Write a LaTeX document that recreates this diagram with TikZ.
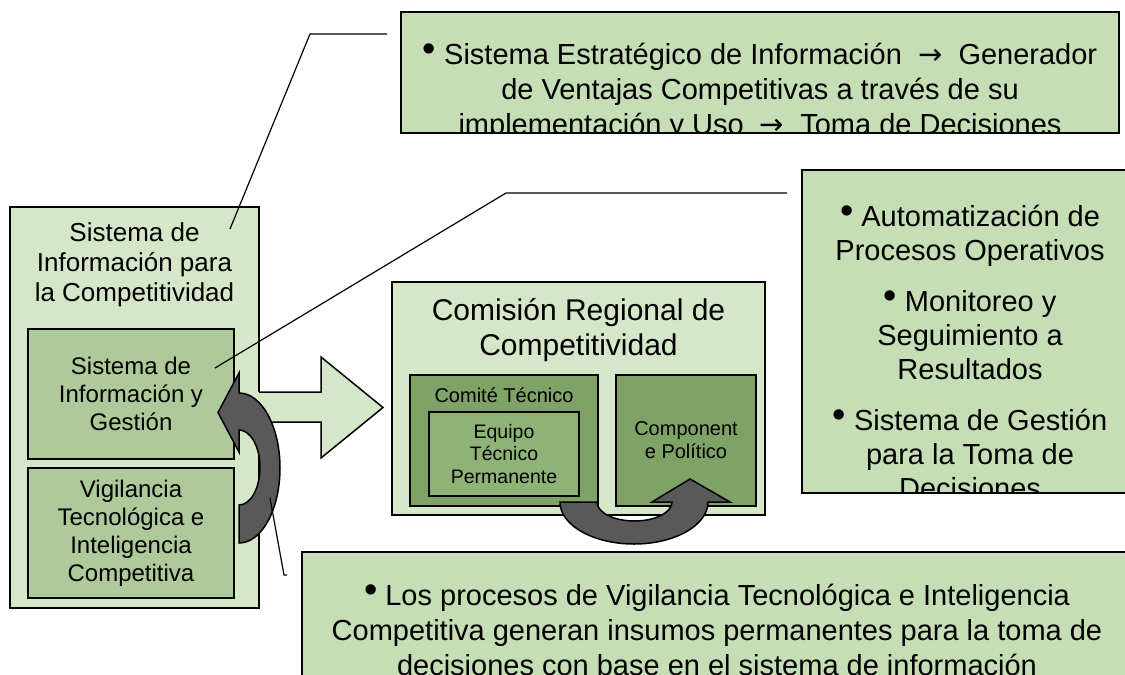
\documentclass[tikz,border=0pt]{standalone}
\usepackage{fontspec}
\setmainfont{Liberation Sans}
\newfontfamily\arrowfont{DejaVu Sans}
\usetikzlibrary{positioning, calc}

\definecolor{paleleaf}{HTML}{D5E6C9}
\definecolor{noteleaf}{HTML}{C5DEB5}
\definecolor{midleaf}{HTML}{AEC99A}
\definecolor{deepleaf}{HTML}{7FA266}
\definecolor{teamleaf}{HTML}{8FB277}
\definecolor{turngray}{HTML}{595959}

\newcommand{\dotmark}{\raisebox{3.5pt}{\fontsize{38}{38}\selectfont\textbullet}~}
\newcommand{\thenarrow}{~~{\arrowfont →}~~}

\begin{document}
\begin{tikzpicture}[x=1pt, y=-1pt,
  outerbox/.style={rectangle, draw=black, line width=1.5pt, fill=paleleaf, outer sep=0pt, inner sep=0pt},
  innerbox/.style={rectangle, draw=black, line width=1.5pt, fill=midleaf, outer sep=0pt, inner sep=0pt, minimum width=206pt, minimum height=130pt, align=center, font=\fontsize{24}{28}\selectfont},
  deepbox/.style={rectangle, draw=black, line width=1.5pt, fill=deepleaf, outer sep=0pt, inner sep=0pt, minimum height=131pt, align=center, font=\fontsize{20}{23}\selectfont},
  teambox/.style={rectangle, draw=black, line width=1.5pt, fill=teamleaf, outer sep=0pt, inner sep=0pt, minimum width=150pt, minimum height=84pt, align=center, font=\fontsize{19.5}{22.5}\selectfont},
  notebox/.style={rectangle, draw=black, line width=1.5pt, fill=noteleaf, outer sep=0pt, inner sep=0pt},
  notetext/.style={align=center, inner sep=0pt, anchor=north, font=\fontsize{29}{35}\selectfont},
  headtext/.style={align=center, inner sep=0pt},
  leader/.style={draw=black, line width=1.2pt},
  outline/.style={draw=black, line width=1.5pt, line join=miter},
  turnarrow/.style={fill=turngray, draw=black, line width=1.5pt, line join=miter}]

  \useasboundingbox (0,0) rectangle (1125,675);
  \clip (0,0) rectangle (1125,675);

  % Left column
  \node (sic) [outerbox, anchor=north west, minimum width=249pt, minimum height=401pt] at (10,207) {};
  \node (sichead) [headtext, font=\fontsize{26}{30}\selectfont] at ($(sic.north)+(0,58)$) {Sistema de\\Información para\\la Competitividad};
  \node (sig) [innerbox, anchor=north west] at (28,329) {Sistema de\\Información y\\Gestión};
  \node (vtec) [innerbox, below=9pt of sig] {Vigilancia\\Tecnológica e\\Inteligencia\\Competitiva};

  % Comision
  \node (crc) [outerbox, anchor=north west, minimum width=373pt, minimum height=233pt] at (392,282) {};
  \node (crchead) [headtext, font=\fontsize{30}{35}\selectfont] at ($(crc.north)+(0,48.5)$) {Comisión Regional de\\Competitividad};
  \node (cte) [deepbox, anchor=north west, minimum width=188pt] at (410,375) {};
  \node (ctehead) [headtext, font=\fontsize{20}{23}\selectfont] at ($(cte.north)+(0,20)$) {Comité Técnico};
  \node (etp) [teambox, anchor=north west] at (429,412) {Equipo\\Técnico\\Permanente};
  \node (cpo) [deepbox, minimum width=140pt, right=18pt of cte] {Component\\e Político};

  % Wide arrow
  \coordinate (widetip) at ($(crc.west |- sic.east)+(-9,0)$);
  \begin{scope}[shift={(sic.east)}]
    \fill[paleleaf] (-9,-15.5) -- (62,-15.5) -- (62,-50.5) -- (widetip) -- (62,50.5) -- (62,14.5) -- (-9,14.5) -- cycle;
    \draw[outline] (0,-15.5) -- (62,-15.5) -- (62,-50.5) -- (widetip) -- (62,50.5) -- (62,14.5) -- (0,14.5);
  \end{scope}

  % Turn arrows
  \begin{scope}[shift={(sig.east)}]
    \draw[turnarrow] (5,149) arc[start angle=90, end angle=-90, x radius=41, y radius=75] -- (5,-21) -- (-16,18.5) -- (5,58) -- (5,36) arc[start angle=-90, end angle=90, x radius=21, y radius=37.5] -- cycle;
  \end{scope}
  \begin{scope}[shift={(cte.south)}]
    \draw[turnarrow] (56,-4) arc[start angle=180, end angle=0, x radius=74, y radius=42] -- (226,-4) -- (186,-27) -- (148,-4) -- (168,-4) arc[start angle=0, end angle=180, x radius=37.5, y radius=19] -- cycle;
  \end{scope}

  % Notes
  \node (topnote) [notebox, anchor=north west, minimum width=718pt, minimum height=121pt] at (401,12) {};
  \begin{scope}
    \clip (topnote.north west) rectangle (topnote.south east);
    \node (topnotetext) [notetext] at ($(topnote.north)+(0,31)$) {\dotmark Sistema Estratégico de Información\thenarrow Generador\\de Ventajas Competitivas a través de su\\implementación y Uso\thenarrow Toma de Decisiones};
  \end{scope}
  \node (rightnote) [notebox, anchor=north west, minimum width=336pt, minimum height=323pt] at (802,170) {};
  \begin{scope}
    \clip (rightnote.north west) rectangle (rightnote.south east);
    \node (rightnotetext) [notetext, font=\fontsize{29}{34}\selectfont] at ($(rightnote.north)+(0,35)$) {\dotmark Automatización de\\Procesos Operativos\\[17pt]\dotmark Monitoreo y\\Seguimiento a\\Resultados\\[17pt]\dotmark Sistema de Gestión\\para la Toma de\\Decisiones};
  \end{scope}
  \node (lownote) [notebox, anchor=north west, minimum width=830pt, minimum height=160pt] at (302,552) {};
  \begin{scope}
    \clip (lownote.north west) rectangle (lownote.south east);
    \node (lownotetext) [notetext] at ($(lownote.north)+(0,32)$) {\dotmark Los procesos de Vigilancia Tecnológica e Inteligencia\\Competitiva generan insumos permanentes para la toma de\\decisiones con base en el sistema de información};
  \end{scope}

  % Leaders
  \coordinate (toptail) at ($(sic.north east)+(-29,22)$);
  \coordinate (righttail) at ($(sig.north east)+(-19,39)$);
  \coordinate (lowtail) at ($(vtec.east)+(36,-35)$);
  \draw[leader] (toptail) -- (310,34) -- ($(topnote.north west)+(-14,22)$);
  \draw[leader] (righttail) -- (506,193) -- ($(rightnote.north west)+(-15,23)$);
  \draw[leader] (lowtail) -- (284,575) -- ($(lownote.north west)+(-15,23)$);

\end{tikzpicture}
\end{document}
